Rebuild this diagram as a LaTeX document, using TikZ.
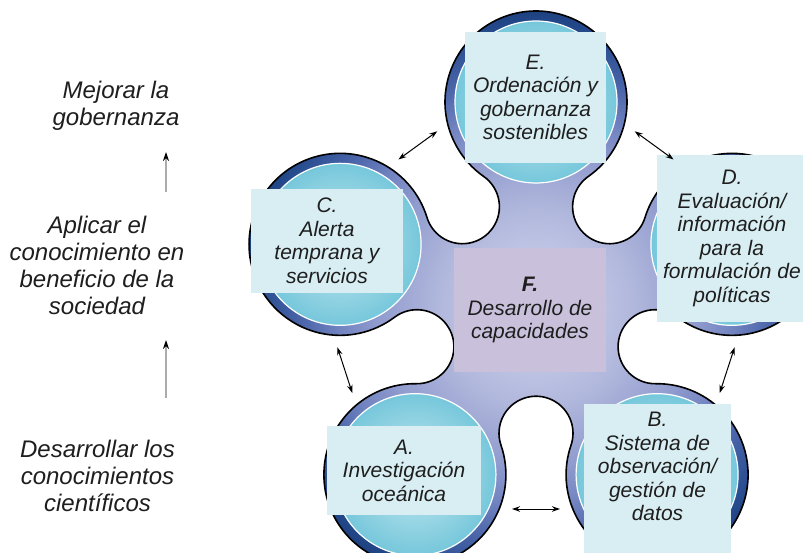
\documentclass[tikz,border=0pt]{standalone}
\usepackage{fontspec}
\setmainfont{Liberation Sans}
\usetikzlibrary{arrows.meta, calc}
\definecolor{bodyA}{HTML}{D4D7EE}
\definecolor{bodyB}{HTML}{B0B7DC}
\definecolor{bodyC}{HTML}{909BCE}
\definecolor{bodyD}{HTML}{7183C0}
\definecolor{bodyE}{HTML}{4863A8}
\definecolor{bodyF}{HTML}{264C8E}
\definecolor{bodyG}{HTML}{1C3F7E}
\definecolor{cyanIn}{HTML}{C6E9F1}
\definecolor{cyanOut}{HTML}{76C7DB}
\definecolor{boxcyan}{HTML}{D9EEF3}
\definecolor{boxlilac}{HTML}{C9C1DB}
\definecolor{textgray}{HTML}{1E1E1E}
\pgfdeclareradialshading{bodyshade}{\pgfpoint{0bp}{0bp}}{%
  color(0bp)=(bodyA); color(8.3bp)=(bodyB); color(13.3bp)=(bodyC);
  color(16.5bp)=(bodyD); color(19.8bp)=(bodyE); color(23.2bp)=(bodyF);
  color(25bp)=(bodyG); color(50bp)=(bodyG)}
\newcommand\bodyshape{($(LE)+(-54.9:91pt)$)
  \foreach \k in {0,...,4}{
    arc[start angle=90+72*\k-144.9, end angle=90+72*\k+144.9, radius=91pt]
    arc[start angle=126+72*\k-71.1, end angle=126+72*\k-288.9, radius=37pt]
  } -- cycle}

\begin{document}
\begin{tikzpicture}[
  x=1pt, y=1pt,
  font=\fontsize{21}{23.5}\selectfont\itshape,
  lobe/.style={circle, minimum size=162pt, inner sep=0pt, inner color=cyanIn, outer color=cyanOut, draw=white, line width=1.2pt},
  topic/.style={fill=boxcyan, align=center, inner sep=0pt, text=textgray},
  stage/.style={align=center, text=textgray, font=\fontsize{24}{27}\selectfont\itshape},
  link/.style={{Stealth[length=8pt,width=5.5pt]}-{Stealth[length=8pt,width=5.5pt]}, line width=1pt, draw=black},
  rise/.style={-{Stealth[length=9pt,width=6pt,color=black]}, draw=gray!65, line width=1.2pt}
]
\useasboundingbox (0,0) rectangle (803,552);
\coordinate (O) at (536,244);
\foreach \n/\k in {E/0,C/1,A/2,B/3,D/4}
  \coordinate (L\n) at ($(O)+(90+72*\k:206pt)$);
\begin{scope}
  \clip \bodyshape;
  \shade[shading=bodyshade] (O) circle[radius=300pt];
\end{scope}
\draw[line width=1.6pt] \bodyshape;
\foreach \n in {E,C,A,B,D}
  \node[lobe] (c\n) at (L\n) {};
\node[topic, minimum width=141pt, minimum height=131pt] (bE) at (535.5,454.5) {E.\\Ordenación y\\gobernanza\\sostenibles};
\node[topic, minimum width=152pt, minimum height=104pt] (bC) at (327,311) {C.\\Alerta\\temprana y\\servicios};
\node[topic, minimum width=150pt, minimum height=167pt] (bD) at (732,313.5) {D.\\Evaluación/\\información\\para la\\formulación de\\políticas};
\node[topic, fill=boxlilac, minimum width=152pt, minimum height=124pt] (bF) at (530,242) {\textbf{F.}\\Desarrollo de\\capacidades};
\node[topic, minimum width=154pt, minimum height=89pt] (bA) at (404,81.5) {A.\\Investigación\\oceánica};
\node[topic, minimum width=147pt, minimum height=150pt, text depth=24pt] (bB) at (657.5,73.5) {B.\\Sistema de\\observación/\\gestión de\\datos};
\foreach \a [count=\i] in {54,126,198,270,342} {
  \coordinate (ga\i) at ($(O)+(\a:201pt)+(\a+90:24pt)$);
  \coordinate (gb\i) at ($(O)+(\a:201pt)+(\a-90:24pt)$);
  \draw[link] (ga\i) -- (gb\i);
}
\node[stage] (tGov) at (116,446) {Mejorar la\\gobernanza};
\node[stage] (tApp) at (97,287) {Aplicar el\\conocimiento en\\beneficio de la\\sociedad};
\node[stage] (tSci) at (97.5,76) {Desarrollar los\\conocimientos\\científicos};
\coordinate (r1) at (166,360);
\coordinate (r2) at (166,400);
\coordinate (r3) at (166,154);
\coordinate (r4) at (166,212);
\draw[rise] (r1) -- (r2);
\draw[rise] (r3) -- (r4);
\end{tikzpicture}
\end{document}
